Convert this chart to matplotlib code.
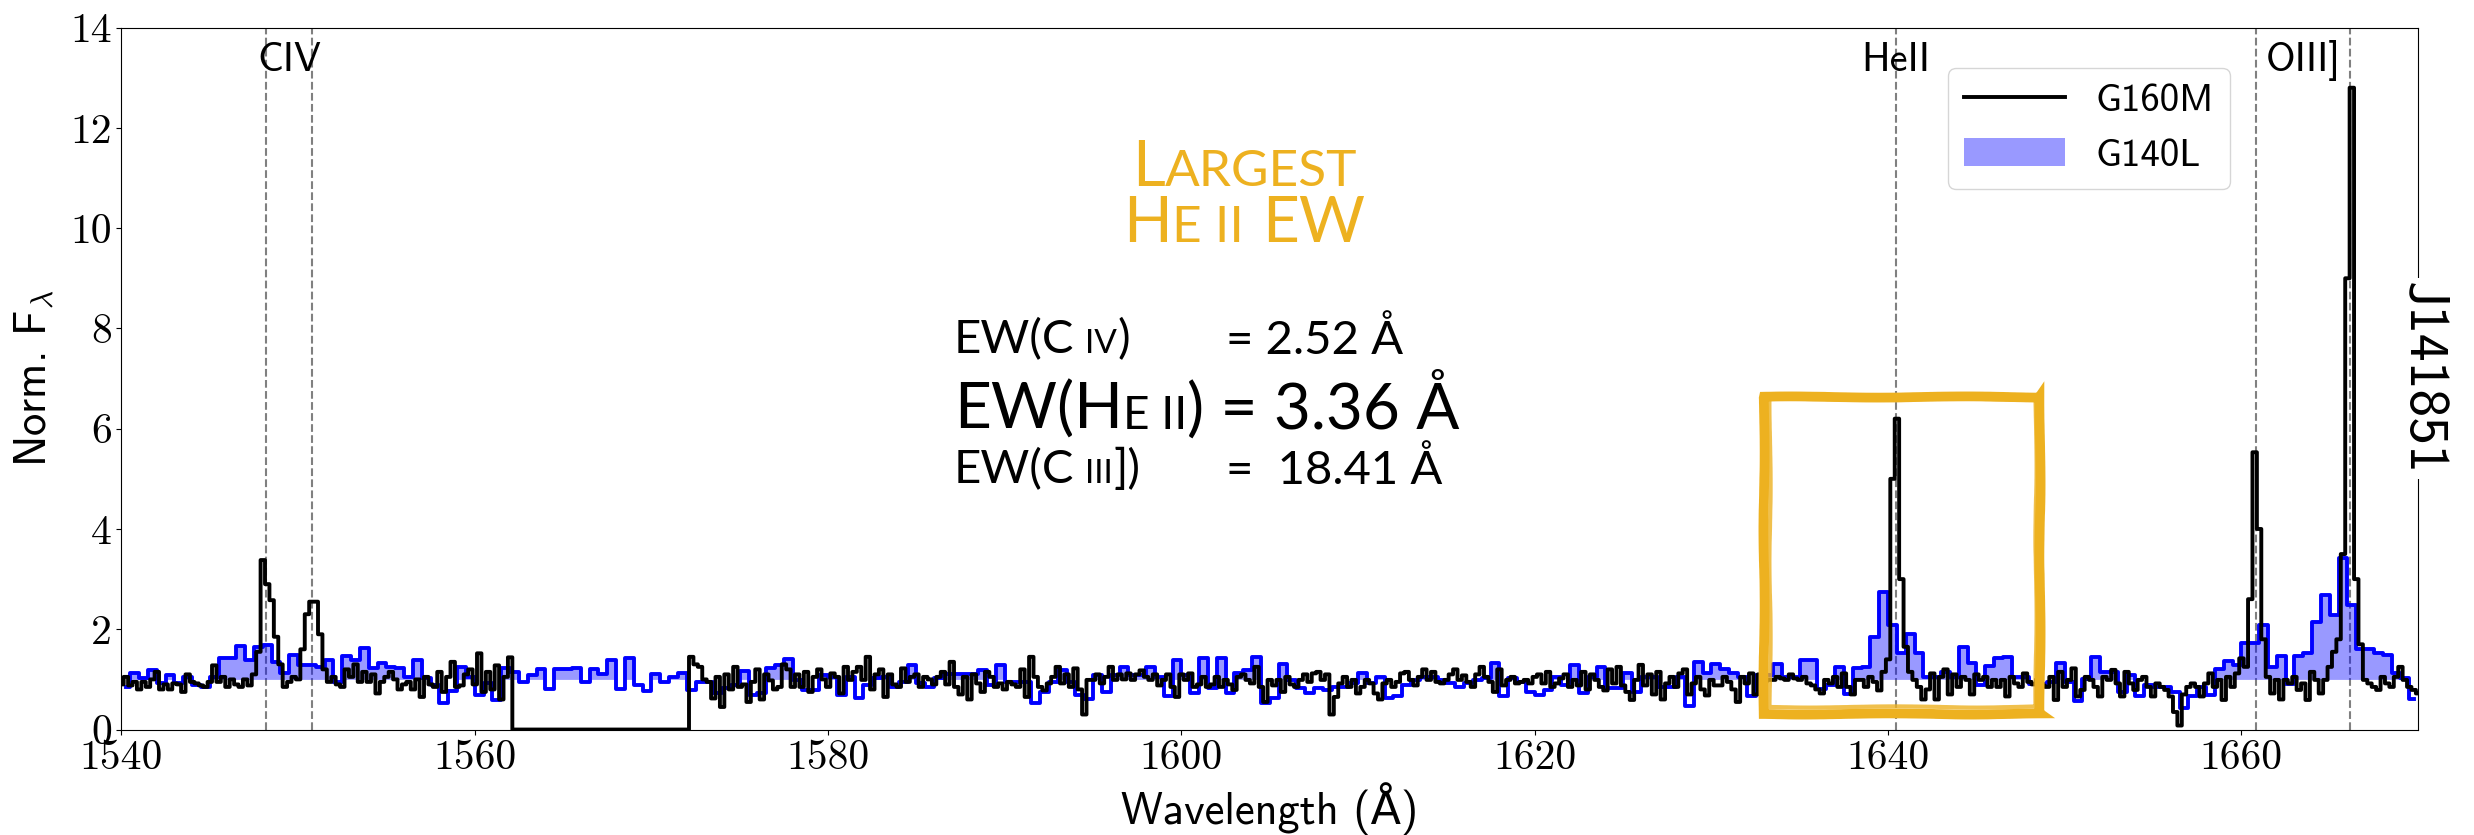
import numpy as np
import matplotlib
matplotlib.use("Agg")
import matplotlib.pyplot as plt
from matplotlib.patches import Rectangle
from matplotlib.offsetbox import TextArea, HPacker, AnnotationBbox, DrawingArea

# G160M (black), 0.25 A bins starting at 1540.0 ; zeros = detector gap
g160m_start = 1540.0
g160m_step = 0.25
g160m_flux = [
    0.9, 1.05, 0.88, 0.95, 0.8, 0.95, 0.85, 1.0, 1.15, 0.8, 0.9, 0.8, 0.92, 0.9, 0.75, 1.1, 0.95, 0.92, 0.88, 0.85,   # 1540
    0.95, 1.28, 0.95, 1.05, 0.85, 1.0, 0.9, 0.85, 1.0, 0.88, 1.1, 1.55, 3.38, 2.9, 2.58, 1.85, 1.3, 0.85, 0.95, 1.05,  # 1545
    1.0, 1.6, 2.3, 2.55, 2.55, 1.9, 1.2, 0.95, 1.05, 0.9, 0.85, 1.2, 1.05, 1.3, 0.95, 1.15, 0.95, 1.1, 0.72, 0.95,     # 1550
    1.05, 1.15, 1.0, 0.8, 0.9, 0.95, 0.8, 1.0, 0.65, 1.05, 0.9, 0.85, 1.15, 0.75, 1.05, 1.35, 0.85, 0.88, 1.1, 1.2,    # 1555
    0.9, 1.52, 0.75, 1.15, 0.8, 1.28, 0.6, 1.05, 1.44, 0, 0, 0, 0, 0, 0, 0, 0, 0, 0, 0,                                # 1560
    0, 0, 0, 0, 0, 0, 0, 0, 0, 0, 0, 0, 0, 0, 0, 0, 0, 0, 0, 0,                                                        # 1565
    0, 0, 0, 0, 0, 0, 0, 0, 0, 1.45, 1.3, 1.25, 1.0, 0.95, 0.62, 1.05, 0.45, 1.1, 0.8, 1.25,                           # 1570
    0.85, 0.9, 0.55, 0.95, 1.2, 0.6, 1.1, 0.98, 0.8, 0.85, 1.3, 1.2, 0.85, 1.1, 0.85, 1.15, 0.75, 1.05, 1.2, 1.0,      # 1575
    0.85, 1.12, 1.05, 0.72, 1.25, 0.99, 1.15, 1.25, 0.99, 1.45, 0.8, 1.1, 1.2, 0.65, 1.1, 0.9, 0.85, 1.22, 0.95, 1.05, # 1580
    1.1, 0.85, 1.05, 1.0, 0.9, 1.05, 1.15, 0.9, 1.35, 0.85, 0.7, 1.05, 0.6, 1.1, 0.92, 0.75, 1.15, 1.05, 0.85, 0.92,   # 1585
    0.8, 0.95, 0.9, 0.85, 1.2, 0.65, 1.45, 1.05, 0.85, 0.78, 0.92, 1.05, 1.25, 0.92, 1.1, 0.85, 1.22, 0.8, 0.3, 0.99,  # 1590
    0.99, 1.1, 0.92, 1.05, 1.25, 0.99, 1.1, 1.0, 1.12, 0.99, 1.1, 1.18, 1.05, 0.99, 1.1, 0.88, 0.99, 1.1, 0.85, 0.65,  # 1595
    1.1, 0.99, 1.12, 0.85, 0.9, 1.05, 0.85, 0.9, 1.05, 0.85, 0.99, 0.9, 0.79, 1.05, 1.1, 0.99, 0.92, 1.25, 0.85, 0.55, # 1600
    0.99, 0.88, 0.99, 0.75, 1.05, 0.9, 0.85, 0.99, 1.1, 0.95, 1.12, 1.15, 0.99, 1.1, 0.3, 0.65, 0.92, 1.05, 0.85, 0.99, # 1605
    0.72, 0.85, 0.99, 0.92, 0.72, 0.6, 0.92, 0.99, 0.85, 0.95, 1.12, 1.15, 0.99, 0.88, 1.05, 1.2, 0.99, 1.15, 0.95, 0.92, # 1610
    0.99, 1.1, 1.2, 0.99, 1.08, 0.95, 0.85, 1.1, 1.25, 1.05, 0.95, 0.75, 1.2, 0.88, 0.99, 1.05, 0.92, 0.95, 0.99, 0.92,  # 1615
    1.05, 1.1, 0.92, 1.15, 0.85, 0.92, 1.02, 1.1, 0.85, 0.99, 0.88, 1.15, 0.8, 1.1, 0.99, 0.85, 0.78, 1.2, 0.92, 1.25,   # 1620
    0.88, 0.75, 0.59, 0.99, 1.29, 0.88, 1.1, 0.7, 1.15, 0.6, 0.92, 1.05, 0.85, 1.12, 1.2, 0.7, 0.92, 1.05, 0.8, 0.68,   # 1625
    0.99, 0.88, 0.88, 1.05, 0.95, 0.8, 0.55, 1.05, 0.92, 1.12, 0.7, 1.1, 0.95, 0.99, 0.99, 1.05, 1.02, 0.99, 1.1, 1.02, # 1630
    0.99, 1.05, 0.92, 0.88, 0.8, 0.72, 0.99, 0.92, 1.05, 0.85, 1.12, 0.85, 0.7, 0.99, 0.99, 0.85, 1.05, 0.95, 0.78, 1.15, # 1635
    1.4, 5.0, 6.2, 3.0, 1.65, 1.15, 0.99, 0.85, 0.6, 0.8, 1.12, 0.6, 1.05, 1.2, 0.7, 1.1, 0.85, 1.05, 0.99, 0.7,        # 1640
    1.1, 0.99, 1.05, 0.85, 0.99, 0.85, 0.99, 0.66, 1.05, 0.92, 0.85, 1.12, 0.95, 0.9, 1.0, 0.88, 0.85, 1.05, 0.59, 1.15, # 1645
    0.85, 0.99, 1.22, 0.66, 0.79, 1.05, 0.99, 0.85, 0.66, 1.05, 0.99, 1.19, 0.92, 0.66, 1.15, 0.92, 0.79, 0.99, 1.05, 0.85, # 1650
    0.66, 0.92, 0.85, 0.79, 0.66, 0.35, 0.08, 0.7, 0.85, 0.92, 0.85, 0.66, 0.92, 1.12, 0.85, 0.99, 0.59, 1.05, 0.85, 1.12, # 1655
    1.42, 1.25, 2.6, 5.53, 4.0, 1.8, 1.05, 0.72, 0.99, 0.6, 0.99, 0.92, 1.05, 0.79, 0.92, 0.59, 1.15, 0.99, 0.72, 0.99,  # 1660
    1.25, 1.55, 1.8, 3.5, 9.0, 12.8, 3.0, 1.7, 0.99, 0.92, 0.85, 0.79, 1.05, 0.92, 0.85, 1.05, 1.25, 0.99, 0.85, 0.79,   # 1665
    0.72,
]

# G140L (blue), 0.5 A bins centred at 1540.25, 1540.75, ...
g140l_start = 1540.25
g140l_step = 0.5
g140l_flux = [
    0.85, 1.12, 1.02, 1.19, 0.92, 1.09, 0.92, 1.05, 0.89, 0.85,   # 1540
    1.05, 1.42, 1.42, 1.67, 1.39, 1.65, 1.69, 1.35, 1.12, 1.49,   # 1545
    1.29, 1.29, 1.25, 1.39, 0.95, 1.47, 1.38, 1.62, 1.22, 1.32,   # 1550
    1.25, 1.22, 1.05, 1.39, 1.02, 0.89, 0.52, 0.76, 1.25, 1.05,   # 1555
    0.69, 0.92, 0.59, 1.22, 1.15, 0.95, 1.09, 1.2, 0.80, 1.2,     # 1560
    1.2, 1.22, 0.95, 1.2, 1.1, 1.39, 0.80, 1.42, 0.89, 0.76,      # 1565
    1.1, 0.95, 1.05, 1.12, 0.79, 0.95, 0.94, 0.72, 0.82, 0.89,    # 1570
    1.17, 0.69, 0.72, 1.22, 1.29, 1.4, 0.99, 0.79, 0.79, 1.09,    # 1575
    1.05, 0.69, 1.05, 0.62, 0.89, 1.02, 1.05, 0.85, 0.95, 1.29,   # 1580
    0.92, 0.85, 1.02, 1.1, 1.1, 1.1, 1.1, 1.19, 0.89, 1.29,       # 1585
    0.95, 0.95, 0.94, 0.53, 0.75, 0.95, 1.19, 0.95, 0.69, 0.6,    # 1590
    1.09, 0.75, 1.09, 1.24, 1.09, 1.09, 1.24, 1.05, 0.66, 1.39,   # 1595
    1.09, 0.72, 1.42, 0.82, 1.42, 0.72, 1.12, 1.19, 1.44, 0.52,   # 1600
    0.62, 1.31, 0.99, 0.82, 0.72, 0.82, 0.79, 0.85, 0.85, 0.92,   # 1605
    1.12, 0.92, 1.05, 0.62, 0.66, 0.89, 0.99, 1.05, 1.05, 0.99,   # 1610
    0.92, 0.85, 0.92, 0.99, 1.02, 1.32, 0.67, 1.02, 0.94, 0.74,   # 1615
    0.69, 0.79, 1.05, 0.89, 1.29, 0.72, 1.05, 1.25, 0.82, 0.82,   # 1620
    1.12, 0.74, 1.05, 1.05, 0.85, 0.85, 1.05, 0.46, 1.35, 1.13,   # 1625
    1.31, 1.2, 1.12, 1.05, 0.66, 1.09, 1.09, 1.31, 1.04, 1.04,    # 1630
    1.39, 1.39, 0.8, 0.89, 1.24, 0.71, 1.22, 1.25, 1.85, 2.75,    # 1635
    2.09, 1.53, 1.91, 1.52, 1.05, 1.05, 1.15, 1.04, 1.65, 1.32,   # 1640
    0.89, 1.27, 1.42, 1.44, 1.04, 1.04, 0.9, 0.9, 0.95, 1.32,     # 1645
    0.94, 0.56, 1.0, 1.45, 1.15, 1.15, 0.75, 1.09, 0.67, 0.89,    # 1650
    0.85, 0.85, 0.75, 0.42, 0.66, 0.85, 0.69, 1.2, 1.37, 1.29,    # 1655
    1.73, 1.73, 2.09, 1.25, 1.47, 0.91, 1.47, 1.53, 2.15, 2.69,   # 1660
    2.29, 3.42, 2.48, 1.6, 1.6, 1.52, 1.49, 1.12, 1.02, 0.6,      # 1665
]

line_waves = [1548.19, 1550.77, 1640.42, 1660.81, 1666.15]
line_names = ["CIV", "HeII", "OIII]"]
line_name_x = [1549.5, 1640.42, 1663.5]

xticks = [1540, 1560, 1580, 1600, 1620, 1640, 1660]
yticks = [0, 2, 4, 6, 8, 10, 12, 14]

SANS = ["cmss10", "DejaVu Sans"]
GOTHIC = ["Lato", "DejaVu Sans"]
ORANGE = "#EDB120"

plt.rcParams["mathtext.fontset"] = "cm"

fig = plt.figure(figsize=(24.74, 8.35), dpi=100)
ax = fig.add_subplot(111)
fig.subplots_adjust(left=0.0491, right=0.9774, top=0.967, bottom=0.1263)

w_hi = g160m_start + g160m_step * np.arange(len(g160m_flux))
w_lo = g140l_start + g140l_step * np.arange(len(g140l_flux))
f_hi = np.array(g160m_flux)
f_lo = np.array(g140l_flux)

for w in line_waves:
    ax.axvline(w, color="gray", ls="--", lw=1.5, zorder=1)

ax.fill_between(w_lo, 1, np.maximum(f_lo, 1), step="mid", color="blue", alpha=0.4,
                lw=0, label="G140L", zorder=2)
ax.step(w_lo, f_lo, where="mid", color="blue", lw=2.8, zorder=3)
ax.step(w_hi, f_hi, where="mid", color="black", lw=2.8, label="G160M", zorder=4)

for name, x in zip(line_names, line_name_x):
    ax.text(x, 13.35, name, ha="center", va="center", fontsize=29, family=SANS)

ax.set_xlim(1540, 1670)
ax.set_ylim(0, 14)
ax.set_xticks(xticks)
ax.set_xticklabels([str(t) for t in xticks], fontfamily="cmr10", fontsize=30)
ax.set_yticks(yticks)
ax.set_yticklabels([str(t) for t in yticks], fontfamily="cmr10", fontsize=30)
ax.set_xlabel("Wavelength (Å)", fontsize=32, family=SANS, va="center")
ax.xaxis.set_label_coords(0.5, -0.112)
ax.set_ylabel(r"Norm. F$_\lambda$", fontsize=32, family=SANS, labelpad=10)

handles, labels = ax.get_legend_handles_labels()
order = [labels.index("G160M"), labels.index("G140L")]
ax.legend([handles[i] for i in order], [labels[i] for i in order],
          loc="upper right", bbox_to_anchor=(0.918, 0.942), borderaxespad=0,
          prop={"family": "cmss10", "size": 28}, handlelength=2.6)

ax.text(1.002, 0.50, "J141851", transform=ax.transAxes, rotation=270,
        ha="center", va="center", fontsize=40, family=SANS,
        bbox=dict(facecolor="white", edgecolor="none", pad=3), zorder=10)

# brush-like highlight box round He II
for (x0, y0, wd, ht, lw, a) in [(1633.0, 0.30, 15.6, 6.34, 7, 1.0),
                                (1633.3, 0.45, 15.1, 6.15, 3, 0.8)]:
    r = Rectangle((x0, y0), wd, ht, fill=False, ec=ORANGE, lw=lw, alpha=a, zorder=6)
    r.set_sketch_params(scale=0.6, length=200, randomness=3)
    ax.add_patch(r)


def gothic_line(x, y, parts, color="black", ax_x=0.0):
    boxes = []
    for s, size in parts:
        if s == " ":
            boxes.append(DrawingArea(size, 1))
        else:
            boxes.append(TextArea(s, textprops=dict(fontsize=size, color=color,
                                                    family=GOTHIC)))
    pack = HPacker(children=boxes, align="baseline", pad=0, sep=0)
    ab = AnnotationBbox(pack, (x, y), xycoords="axes fraction", box_alignment=(ax_x, 0.5),
                        frameon=False, pad=0)
    ax.add_artist(ab)


gothic_line(0.489, 0.80, [("L", 46), ("ARGEST", 37)], color=ORANGE, ax_x=0.5)
gothic_line(0.489, 0.72, [("H", 46), ("E II", 37), (" ", 13), ("EW", 46)], color=ORANGE, ax_x=0.5)

gothic_line(0.3625, 0.555, [("EW(C", 34), (" ", 8), ("IV", 24), (")", 34)])
gothic_line(0.481, 0.555, [("= 2.52 Å", 34)])
gothic_line(0.3625, 0.462, [("EW(H", 46), ("E II", 33), (") = 3.36 Å", 46)])
gothic_line(0.3625, 0.37, [("EW(C", 34), (" ", 8), ("III", 24), ("])", 34)])
gothic_line(0.481, 0.37, [("=  18.41 Å", 34)])

plt.savefig("out.png", dpi=100)
